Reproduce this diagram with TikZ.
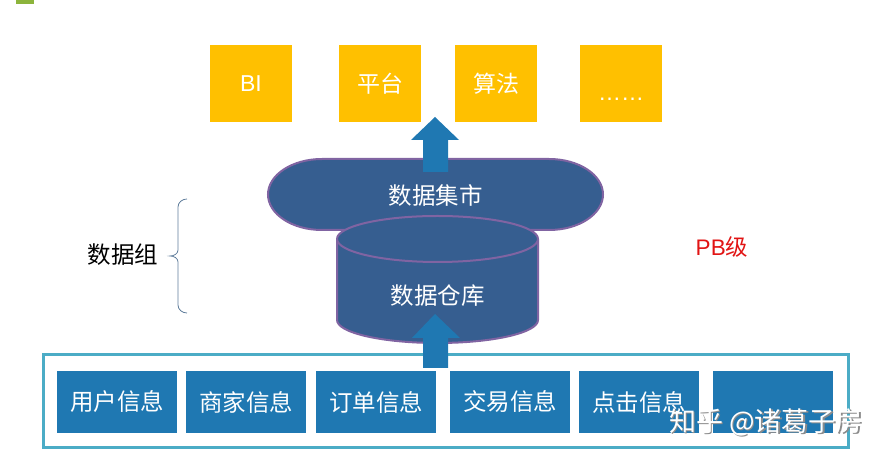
\documentclass[tikz,border=0pt]{standalone}
\usepackage{fontspec}
\setmainfont{Liberation Sans}
\newfontfamily\cjk{Noto Sans CJK SC}

\definecolor{gold}{RGB}{255,192,0}
\definecolor{infoblue}{RGB}{31,120,178}
\definecolor{dbblue}{RGB}{54,94,144}
\definecolor{dbedge}{RGB}{128,100,162}
\definecolor{frameteal}{RGB}{75,172,198}
\definecolor{bracegray}{RGB}{95,125,155}
\definecolor{pbred}{RGB}{225,20,20}
\definecolor{markgreen}{RGB}{140,180,60}

\tikzset{
  topbox/.style={fill=gold, minimum width=82pt, minimum height=77pt, inner sep=0pt,
    text=white, font=\fontsize{23}{27}\selectfont},
  infobox/.style={fill=infoblue, minimum width=120pt, minimum height=62pt, inner sep=0pt,
    text=white, font=\cjk\fontsize{23.5}{27}\selectfont},
  store/.style={fill=dbblue, draw=dbedge, line width=2pt},
  fatarrow/.style={fill=infoblue},
  label/.style={font=\cjk\fontsize{23.5}{27}\selectfont}
}

\begin{document}
\begin{tikzpicture}[x=1pt, y=1pt]
    \useasboundingbox (0,0) rectangle (887,457);
    \fill[markgreen] (16,453) rectangle (34,457);

    % Applications on top
    \node[topbox] (bi) at (251,373.5) {BI};
    \node[topbox] (platform) at (380,373.5) {\cjk 平台};
    \node[topbox] (algo) at (496,373.5) {\cjk 算法};
    \node[topbox] (more) at (621,373.5) {\raisebox{-17pt}[0pt][0pt]{……}};

    % Data mart
    \draw[store] (322,298) -- (549,298) arc[start angle=90, end angle=-90, x radius=54, y radius=35.5]
        -- (322,227) arc[start angle=270, end angle=90, x radius=54, y radius=35.5] -- cycle;
    \node[label, text=white] (mart) at (435.5,261.5) {数据集市};

    % Arrow from mart to applications
    \fill[fatarrow] (423,285) -- (423,317) -- (411,317) -- (435,340) -- (459,317) -- (448,317) -- (448,285) -- cycle;

    % Data warehouse cylinder
    \draw[store] (337,218) -- (337,137) arc[start angle=180, end angle=360, x radius=100.5, y radius=23]
        -- (538,218) arc[start angle=0, end angle=180, x radius=100.5, y radius=23] -- cycle;
    \draw[dbedge, line width=2pt] (337,218) arc[start angle=180, end angle=360, x radius=100.5, y radius=23];
    \node[label, text=white] (dw) at (437.5,161) {数据仓库};

    % Source frame
    \draw[frameteal, line width=3pt] (43,9) rectangle (848,102);

    % Arrow from sources to warehouse
    \fill[fatarrow] (423,89) -- (423,119) -- (412,119) -- (435,143) -- (460,119) -- (448,119) -- (448,89) -- cycle;

    % Source boxes
    \node[infobox] (user) at (117,55) {用户信息};
    \node[infobox] (shop) at (246,55) {商家信息};
    \node[infobox] (order) at (376,55) {订单信息};
    \node[infobox] (trade) at (510,55) {交易信息};
    \node[infobox] (click) at (639,55) {点击信息};
    \node[infobox] (blank) at (773,55) {};

    % Group brace
    \draw[bracegray, line width=0.8pt] (187,258) to[out=180, in=90] (178,250) -- (178,207)
        to[out=-90, in=0] (170,201) to[out=0, in=90] (178,195) -- (178,152) to[out=-90, in=180] (187,144);
    \node[label] (group) at (123,202) {数据组};

    \node[text=pbred, font=\fontsize{22.5}{26}\selectfont] (pb) at (722,210) {PB{\cjk 级}};

    % Watermark
    \node[label, text=black!45, font=\cjk\fontsize{27}{31}\selectfont] (wmshadow) at (767.5,33.5) {知乎 @诸葛子房};
    \node[label, text=white, font=\cjk\fontsize{27}{31}\selectfont] (wm) at (766,35) {知乎 @诸葛子房};
\end{tikzpicture}
\end{document}
